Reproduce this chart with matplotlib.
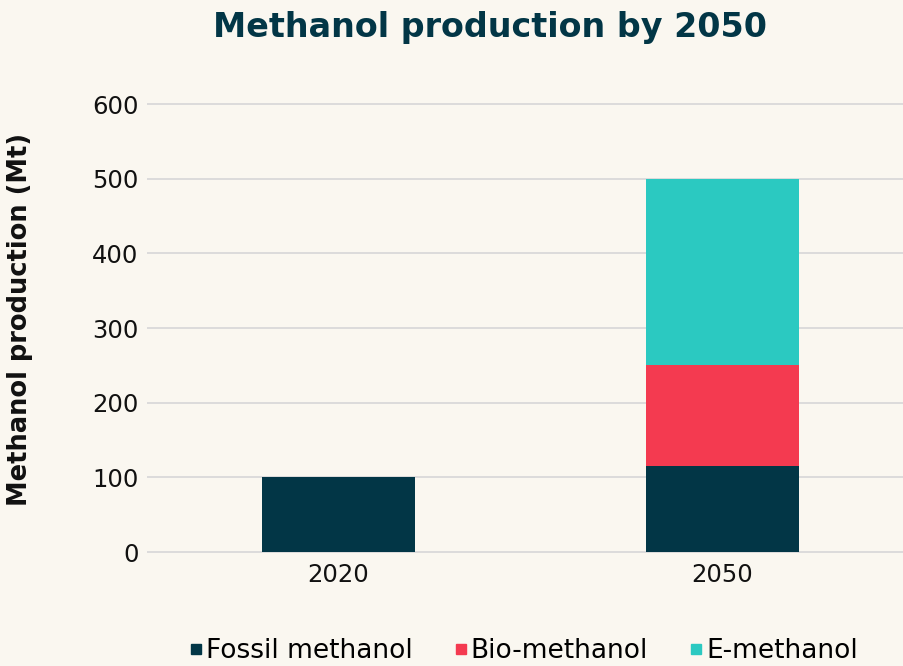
import matplotlib
matplotlib.use("Agg")
import matplotlib.pyplot as plt
from matplotlib.lines import Line2D
import numpy as np

years = ["2020", "2050"]
fossil = [100, 115]
bio = [0, 135]
emeth = [0, 250]
series_names = ["Fossil methanol", "Bio-methanol", "E-methanol"]
colors = ["#023646", "#F43A50", "#2BC9C1"]
yticks = [0, 100, 200, 300, 400, 500, 600]

bg = "#FAF7F0"
plt.rcParams['font.family'] = ['DejaVu Sans']

fig = plt.figure(figsize=(9.04, 6.66), dpi=100, facecolor=bg)
W, H = 904, 666
left, right = 147, 904
y0, y600 = 552, 104
ppu = (y0 - y600) / 600.0
ylo, yhi = -3, 603
bottom_px = y0 + (0 - ylo) * ppu
top_px = y0 - (yhi) * ppu
ax = fig.add_axes([left / W, 1 - bottom_px / H, (right - left) / W, (bottom_px - top_px) / H])
ax.set_facecolor(bg)

x = np.arange(len(years))
w = 0.4
ax.bar(x, fossil, w, color=colors[0], zorder=3)
ax.bar(x, bio, w, bottom=fossil, color=colors[1], zorder=3)
ax.bar(x, emeth, w, bottom=np.array(fossil) + np.array(bio), color=colors[2], zorder=3)

cat = 384.0
xl = -(338.5 - left) / cat
xr = (right - 338.5) / cat
ax.set_xlim(xl, xr)
ax.set_ylim(ylo, yhi)
ax.set_yticks(yticks)
ax.set_xticks(x)
ax.set_xticklabels(years)
ax.tick_params(axis='both', length=0, labelsize=17.5, colors='#111111')
ax.tick_params(axis='y', pad=6)
ax.tick_params(axis='x', pad=6)
ax.grid(axis='y', color='#D9D9D9', linewidth=1.3, zorder=0)
for s in ax.spines.values():
    s.set_visible(False)

fig.text(490 / W, 1 - 27 / H, "Methanol production by 2050", ha='center', va='center',
         fontsize=24, fontweight='bold', color='#023646')
fig.text(20 / W, 1 - 319 / H, "Methanol production (Mt)", ha='center', va='center',
         rotation=90, fontsize=18.5, fontweight='bold', color='#111111')

handles = [Line2D([], [], marker='s', linestyle='none', markersize=7, color=c) for c in colors]
fig.legend(handles, series_names, loc='center', bbox_to_anchor=(524 / W, 1 - 651 / H), ncol=3,
           frameon=False, fontsize=19, handlelength=0.45, handletextpad=0.15, columnspacing=1.6,
           borderpad=0, borderaxespad=0)

fig.savefig("out.png", dpi=100, facecolor=bg)
